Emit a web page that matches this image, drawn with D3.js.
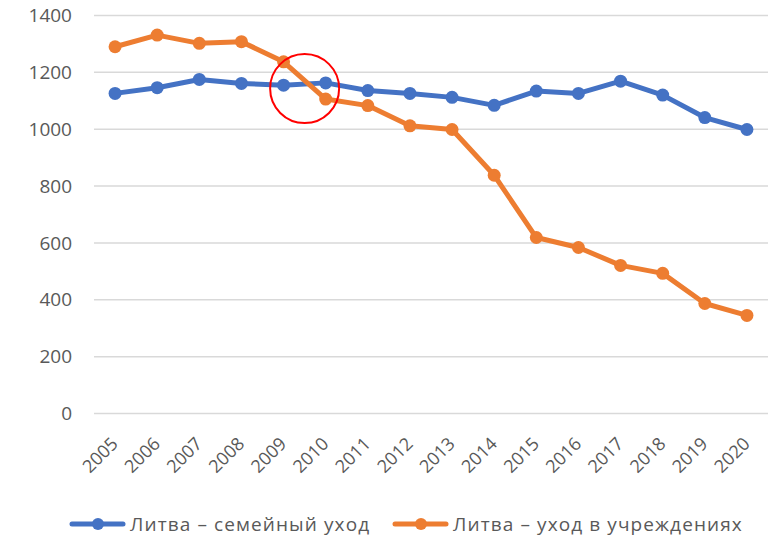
<!DOCTYPE html>
<html>
<head>
<meta charset="utf-8">
<script src="https://cdn.jsdelivr.net/npm/d3@7"></script>
<style>
  body { margin: 0; background: #fff; }
  text { font-family: "Open Sans", "Liberation Sans", sans-serif; fill: #595959; }
</style>
</head>
<body>
<div id="chart"></div>
<script>
var years = ["2005", "2006", "2007", "2008", "2009", "2010", "2011", "2012",
             "2013", "2014", "2015", "2016", "2017", "2018", "2019", "2020"];
var familyCare = [1126, 1146, 1175, 1161, 1155, 1163, 1136, 1126,
                  1112, 1084, 1134, 1126, 1169, 1120, 1041, 999];
var institutionCare = [1290, 1331, 1302, 1308, 1237, 1106, 1083, 1012,
                       999, 838, 619, 584, 521, 493, 387, 345];
var yTicks = [0, 200, 400, 600, 800, 1000, 1200, 1400];
var seriesNames = ["Литва – семейный уход", "Литва – уход в учреждениях"];
var colors = ["#4472C4", "#ED7D31"];

var width = 775;
var height = 539;
var plotLeft = 94, plotRight = 768, plotTop = 15.5, plotBottom = 413.5;

var svg = d3.select("#chart")
    .append("svg")
    .attr("width", width)
    .attr("height", height);

var x = d3.scalePoint()
    .domain(years)
    .range([plotLeft, plotRight])
    .padding(0.5);

var y = d3.scaleLinear()
    .domain([0, 1400])
    .range([plotBottom, plotTop]);

// gridlines
svg.append("g")
    .selectAll("line")
    .data(yTicks)
    .enter().append("line")
    .attr("x1", plotLeft)
    .attr("x2", plotRight)
    .attr("y1", d => y(d))
    .attr("y2", d => y(d))
    .style("stroke", "#D9D9D9")
    .style("stroke-width", 1.5);

// y labels
svg.append("g")
    .selectAll("text")
    .data(yTicks)
    .enter().append("text")
    .attr("x", 72)
    .attr("y", d => y(d))
    .attr("dy", "0.35em")
    .attr("text-anchor", "end")
    .style("font-size", "19px")
    .text(d => d);

// x labels
svg.append("g")
    .selectAll("text")
    .data(years)
    .enter().append("text")
    .attr("transform", d => "translate(" + (x(d) + 4) + "," + 445 + ") rotate(-45)")
    .attr("text-anchor", "end")
    .style("font-size", "18px")
    .text(d => d);

var line = d3.line()
    .x((d, i) => x(years[i]))
    .y(d => y(d));

[familyCare, institutionCare].forEach(function (series, k) {
    var g = svg.append("g");
    g.append("path")
        .datum(series)
        .attr("d", line)
        .style("fill", "none")
        .style("stroke", colors[k])
        .style("stroke-width", 5)
        .style("stroke-linejoin", "round")
        .style("stroke-linecap", "round");
    g.selectAll("circle")
        .data(series)
        .enter().append("circle")
        .attr("cx", (d, i) => x(years[i]))
        .attr("cy", d => y(d))
        .attr("r", 6.5)
        .style("fill", colors[k]);
});

// red annotation circle between 2009 and 2010
svg.append("circle")
    .attr("cx", (x("2009") + x("2010")) / 2)
    .attr("cy", y(1143))
    .attr("r", 34.5)
    .style("fill", "none")
    .style("stroke", "#FF0000")
    .style("stroke-width", 2);

// legend
var legendX = [70, 393];
var legend = svg.append("g");
seriesNames.forEach(function (name, k) {
    var lx = legendX[k], ly = 524;
    legend.append("line")
        .attr("x1", lx + 2).attr("x2", lx + 53)
        .attr("y1", ly).attr("y2", ly)
        .style("stroke", colors[k])
        .style("stroke-width", 5)
        .style("stroke-linecap", "round");
    legend.append("circle")
        .attr("cx", lx + 28).attr("cy", ly)
        .attr("r", 6)
        .style("fill", colors[k]);
    legend.append("text")
        .attr("x", lx + 60)
        .attr("y", ly)
        .attr("dy", "0.35em")
        .style("font-size", "19px")
        .style("letter-spacing", "1.1px")
        .text(name);
});
</script>
</body>
</html>
